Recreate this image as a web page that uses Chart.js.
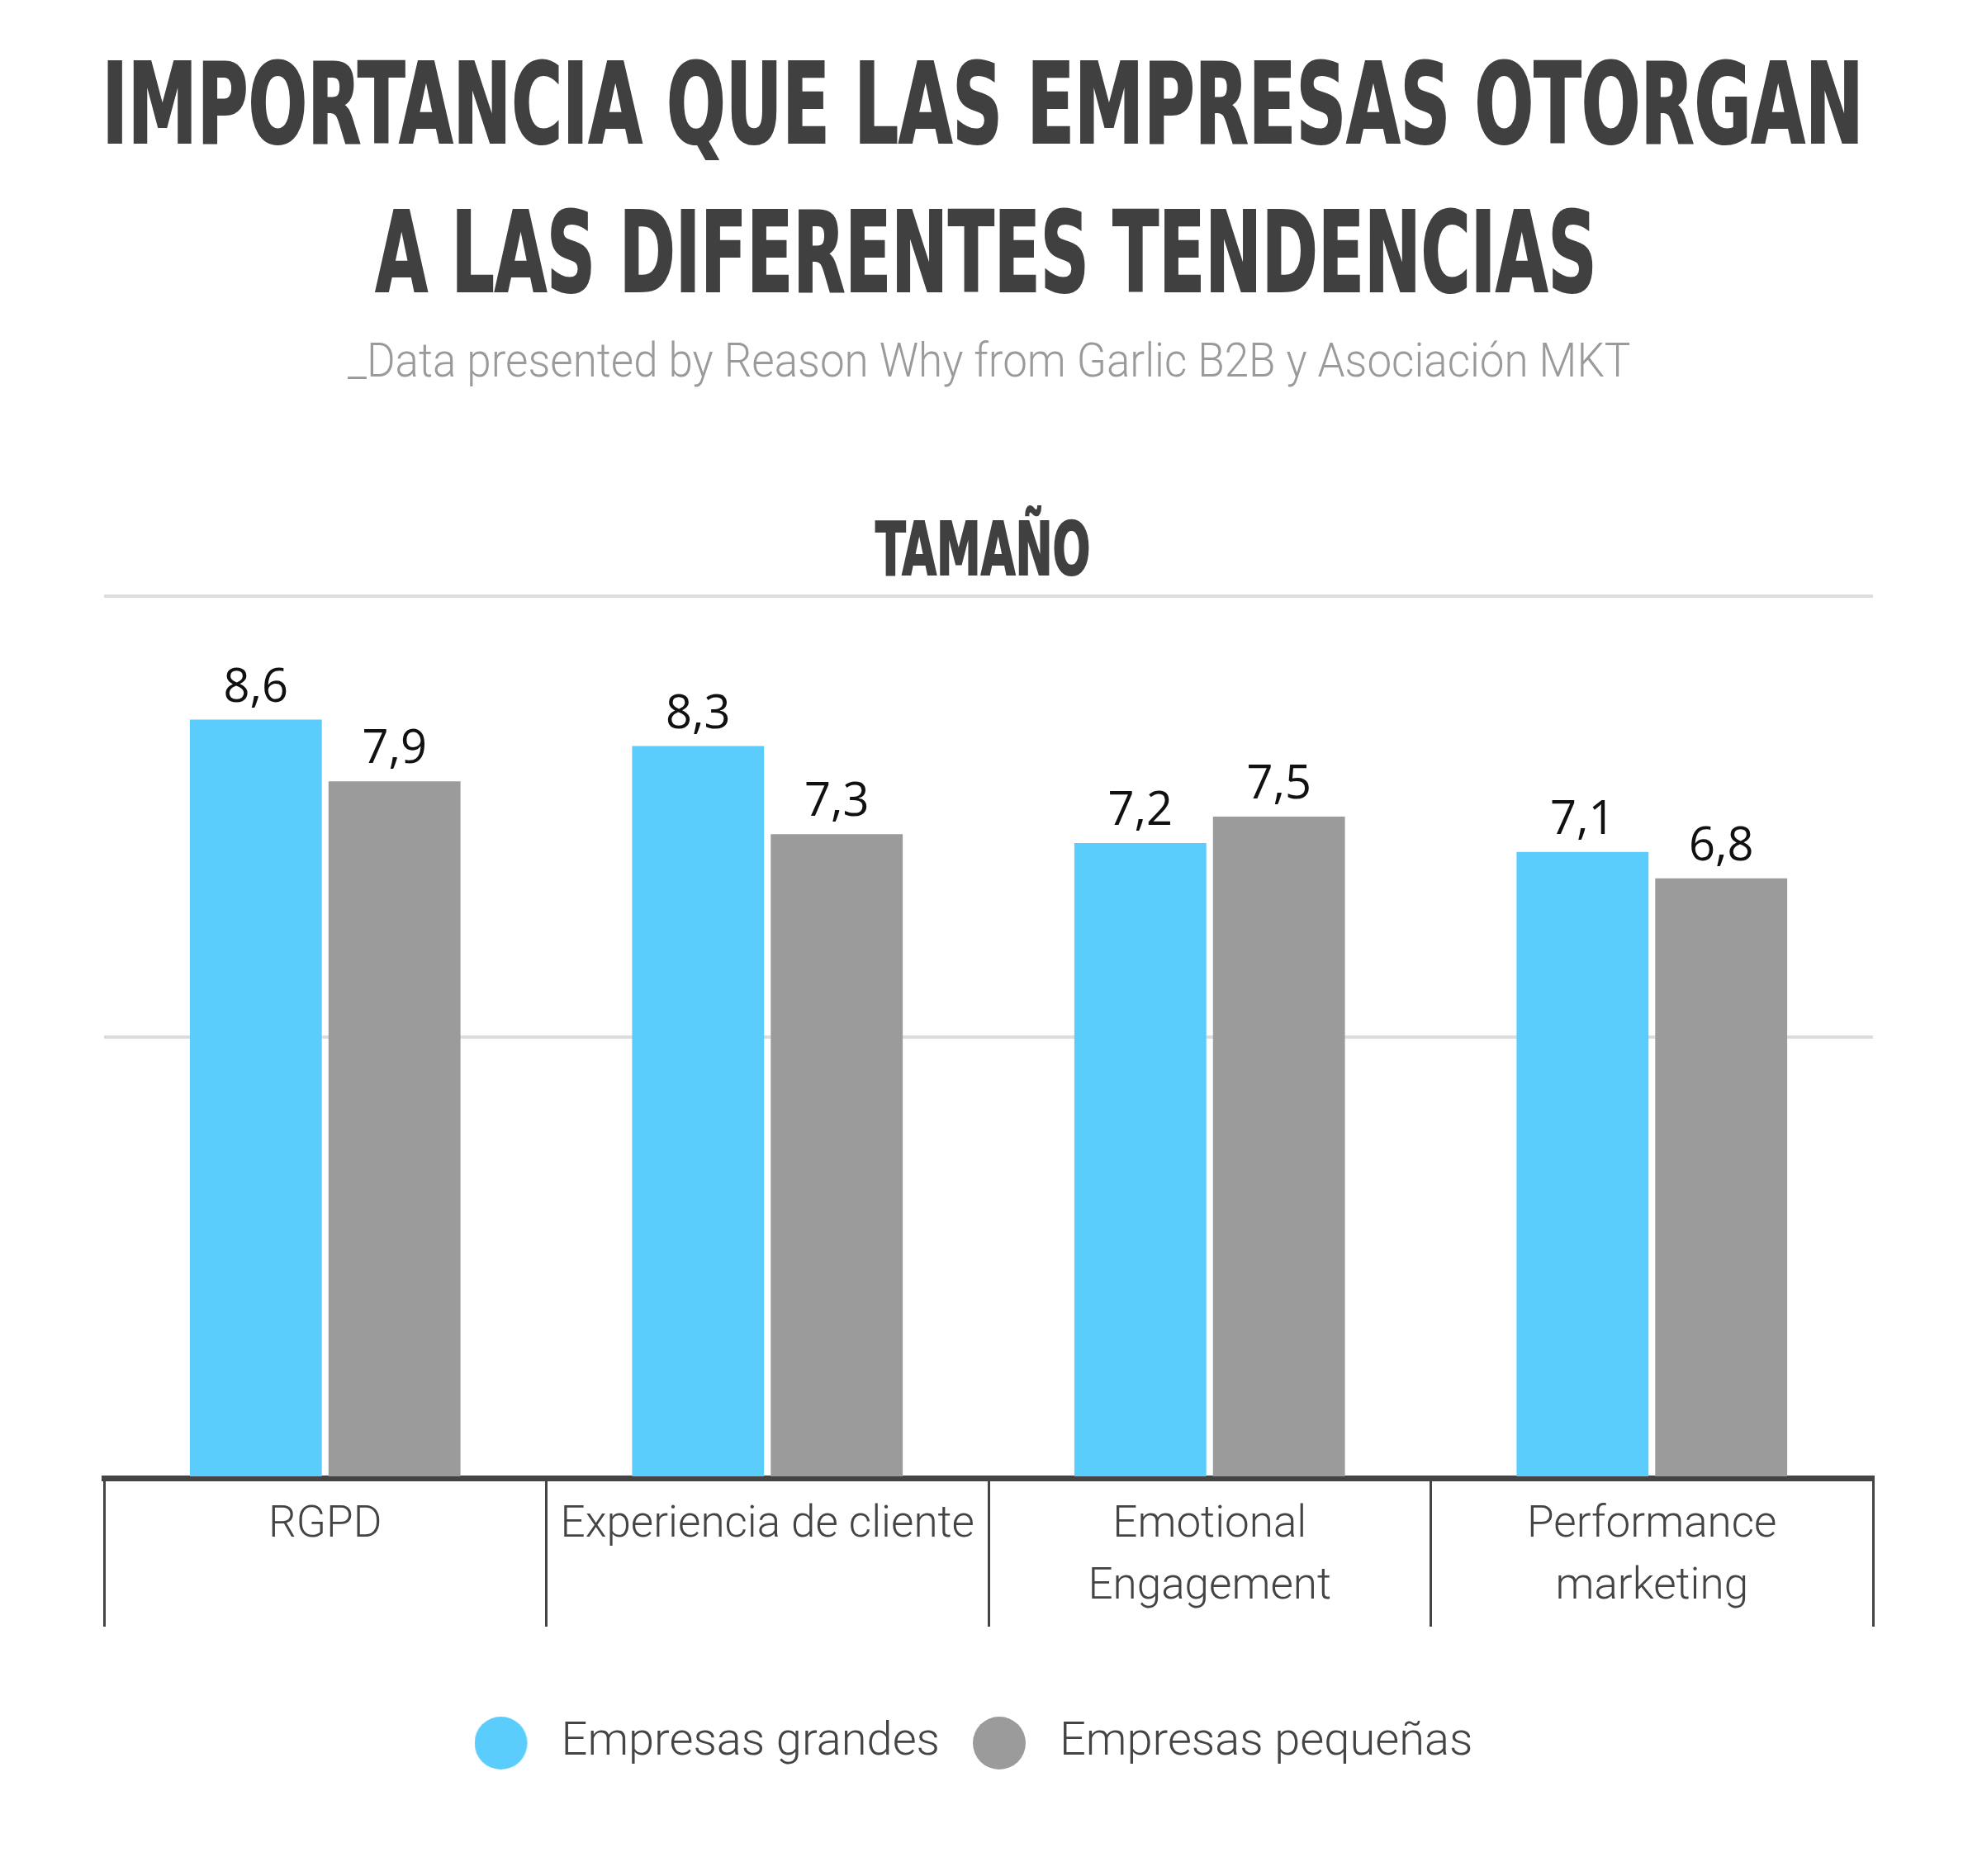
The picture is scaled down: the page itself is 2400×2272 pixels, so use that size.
<!DOCTYPE html>
<html lang="es">
<head>
<meta charset="utf-8">
<title>Importancia que las empresas otorgan a las diferentes tendencias</title>
<script src="https://cdn.jsdelivr.net/npm/chart.js@4.4.1/dist/chart.umd.min.js"></script>
<style>
  html, body { margin: 0; padding: 0; background: #fff; }
  body { width: 2400px; height: 2272px; position: relative; overflow: hidden; }
  .txt { position: absolute; white-space: nowrap; line-height: 1; transform-origin: 50% 0; }
  .mark { display: inline-block; width: 0; height: 0; vertical-align: baseline; }
  .head { font-family: "DejaVu Sans Condensed", "DejaVu Sans", sans-serif; font-stretch: condensed; font-weight: 700; color: #404040; -webkit-text-stroke: 2px #404040; }
  .sub { font-family: Roboto, sans-serif; font-weight: 300; color: #9a9a9a; }
  #chart { position: absolute; left: 0; top: 0; }
</style>
</head>
<body>
<div class="txt head" id="title1" style="font-size:136px">IMPORTANCIA QUE LAS EMPRESAS OTORGAN<span class="mark"></span></div>
<div class="txt head" id="title2" style="font-size:136px">A LAS DIFERENTES TENDENCIAS<span class="mark"></span></div>
<div class="txt sub" id="subtitle" style="font-size:58px">_Data presented by Reason Why from Garlic B2B y Asociación MKT<span class="mark"></span></div>
<div class="txt head" id="section" style="font-size:89px">TAMAÑO<span class="mark"></span></div>
<canvas id="chart" width="2400" height="2272"></canvas>
<script>
// data
var categories = ['RGPD', 'Experiencia de cliente', ['Emotional', 'Engagement'], ['Performance', 'marketing']];
var seriesNames = ['Empresas grandes', 'Empresas pequeñas'];
var grandes = [8.6, 8.3, 7.2, 7.1];
var pequenas = [7.9, 7.3, 7.5, 6.8];
var yTicks = [0, 5, 10];

var BLUE = '#5bcdfc';
var GREY = '#9b9b9b';
var DARK = '#444444';

// put a text line on its baseline, centred, squeezed to the width it has in the picture
function placeText(id, cx, baseline, width) {
   var el = document.getElementById(id);
   var mark = el.querySelector('.mark');
   var w = el.offsetWidth;
   el.style.left = (cx - w / 2) + 'px';
   el.style.top = (baseline - mark.offsetTop) + 'px';
   el.style.transform = 'scaleX(' + (width / w) + ')';
}

placeText('title1', 1190, 173, 2133);
placeText('title2', 1194, 353, 1479);
placeText('subtitle', 1197, 456, 1553);
placeText('section', 1190, 696, 260);

// legend marker: a circle sitting at the left of a wider box, so the text starts further away
function legendDot(color) {
   var c = document.createElement('canvas');
   c.width = 77;
   c.height = 64;
   var g = c.getContext('2d');
   g.fillStyle = color;
   g.beginPath();
   g.arc(32, 32, 32, 0, Math.PI * 2);
   g.fill();
   return c;
}
var dots = [legendDot(BLUE), legendDot(GREY)];

var valueLabels = {
   id: 'valueLabels',
   afterDatasetsDraw: function (chart) {
      var ctx = chart.ctx;
      ctx.save();
      ctx.font = '400 56px "Open Sans"';
      ctx.fillStyle = '#111';
      ctx.textAlign = 'center';
      ctx.textBaseline = 'alphabetic';
      chart.data.datasets.forEach(function (ds, i) {
         chart.getDatasetMeta(i).data.forEach(function (bar, j) {
            ctx.fillText(ds.data[j].toFixed(1).replace('.', ','), bar.x, bar.y - 22);
         });
      });
      ctx.restore();
   }
};

var config = {
   type: 'bar',
   data: {
      labels: categories,
      datasets: [{
         label: seriesNames[0],
         data: grandes,
         backgroundColor: BLUE,
         borderWidth: 0
      }, {
         label: seriesNames[1],
         data: pequenas,
         backgroundColor: GREY,
         borderWidth: 0
      }]
   },
   options: {
      responsive: false,
      animation: false,
      devicePixelRatio: 1,
      categoryPercentage: 0.627,
      barPercentage: 0.952,
      layout: {
         padding: { top: 722, left: 90, right: 132, bottom: 123 }
      },
      plugins: {
         title: { display: false },
         tooltip: { enabled: false },
         legend: {
            position: 'bottom',
            labels: {
               usePointStyle: true,
               pointStyleWidth: 77,
               padding: 40,
               color: DARK,
               font: { family: 'Roboto', weight: '300', size: 56 },
               generateLabels: function (chart) {
                  var items = Chart.defaults.plugins.legend.labels.generateLabels(chart);
                  items.forEach(function (it, i) { it.pointStyle = dots[i]; });
                  return items;
               }
            }
         }
      },
      scales: {
         x: {
            offset: true,
            grid: {
               offset: true,
               drawOnChartArea: false,
               drawTicks: true,
               tickLength: 180,
               color: DARK,
               lineWidth: 3
            },
            border: { display: true, color: DARK, width: 7 },
            ticks: {
               color: DARK,
               padding: -159,
               autoSkip: false,
               maxRotation: 0,
               minRotation: 0,
               font: { family: 'Roboto', weight: '300', size: 53, lineHeight: 1.4 }
            },
            afterFit: function (scale) { scale.height = 253; }
         },
         y: {
            min: yTicks[0],
            max: yTicks[yTicks.length - 1],
            ticks: { display: false, stepSize: yTicks[1] - yTicks[0] },
            grid: { color: '#dddddd', lineWidth: 4, drawTicks: false },
            border: { display: false },
            // an empty strip on the left, so the legend centres where it does in the picture
            afterFit: function (scale) { scale.width = 36; }
         }
      }
   },
   plugins: [valueLabels]
};

window.barChart = new Chart(document.getElementById('chart'), config);
</script>
</body>
</html>
